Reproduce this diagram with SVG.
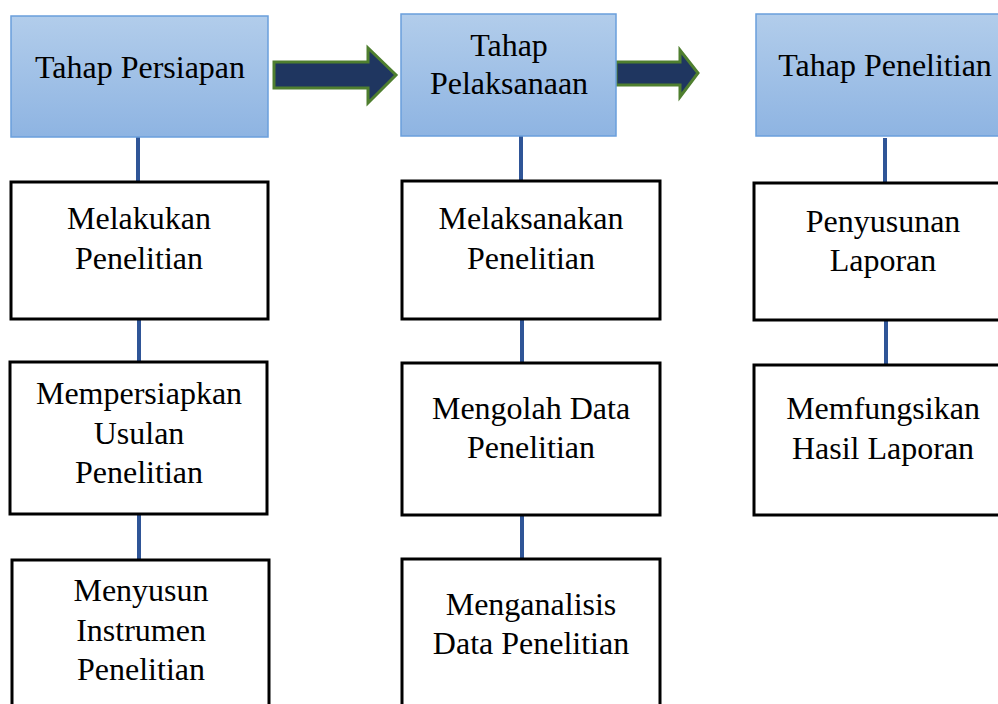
<svg xmlns="http://www.w3.org/2000/svg" width="998" height="704" viewBox="0 0 998 704">
<defs>
<linearGradient id="hg" x1="0" y1="0" x2="0" y2="1">
<stop offset="0" stop-color="#b2cdeb"/>
<stop offset="1" stop-color="#8eb4e2"/>
</linearGradient>
</defs>
<style>
.head{fill:url(#hg);stroke:#6a9fdc;stroke-width:1.5}
.box{fill:#fff;stroke:#000;stroke-width:3}
.t{font-family:"Liberation Serif","Times New Roman",serif;font-size:32px;fill:#000;text-anchor:middle}
.conn{stroke:#2f5597;stroke-width:4;fill:none}
.arr{fill:#1f3660;stroke:#4f7f2f;stroke-width:3;stroke-linejoin:miter}
</style>
<rect width="998" height="704" fill="#fff"/>
<g id="connectors">
<line class="conn" x1="138" y1="137" x2="138" y2="182"/>
<line class="conn" x1="139" y1="319" x2="139" y2="362"/>
<line class="conn" x1="139" y1="514" x2="139" y2="560"/>
<line class="conn" x1="521" y1="136" x2="521" y2="181"/>
<line class="conn" x1="522" y1="319" x2="522" y2="363"/>
<line class="conn" x1="522" y1="515" x2="522" y2="559"/>
<line class="conn" x1="885" y1="138" x2="885" y2="183"/>
<line class="conn" x1="886" y1="320" x2="886" y2="365"/>
<path class="arr" d="M274,62 H368 V48 L396,75 L368,103 V88 H274 Z"/>
<path class="arr" d="M616,62 H680 V50 L698,73 L680,97 V85 H616 Z"/>
</g>
<g id="h1"><rect class="head" x="11" y="16" width="257" height="121"/><text class="t" x="140" y="78">Tahap Persiapan</text></g>
<g id="h2"><rect class="head" x="401" y="14" width="215" height="122"/><text class="t" x="509" y="56">Tahap</text><text class="t" x="509" y="94">Pelaksanaan</text></g>
<g id="h3"><rect class="head" x="756" y="14" width="250" height="122"/><text class="t" x="885" y="76">Tahap Penelitian</text></g>
<g id="a1"><rect class="box" x="11" y="182" width="257" height="137"/><text class="t" x="139" y="229">Melakukan</text><text class="t" x="139" y="269">Penelitian</text></g>
<g id="a2"><rect class="box" x="10" y="362" width="257" height="152"/><text class="t" x="139" y="404">Mempersiapkan</text><text class="t" x="139" y="444">Usulan</text><text class="t" x="139" y="483">Penelitian</text></g>
<g id="a3"><rect class="box" x="12" y="560" width="257" height="150"/><text class="t" x="141" y="601">Menyusun</text><text class="t" x="141" y="641">Instrumen</text><text class="t" x="141" y="680">Penelitian</text></g>
<g id="b1"><rect class="box" x="402" y="181" width="258" height="138"/><text class="t" x="531" y="229">Melaksanakan</text><text class="t" x="531" y="269">Penelitian</text></g>
<g id="b2"><rect class="box" x="402" y="363" width="258" height="152"/><text class="t" x="531" y="419">Mengolah Data</text><text class="t" x="531" y="458">Penelitian</text></g>
<g id="b3"><rect class="box" x="402" y="559" width="258" height="150"/><text class="t" x="531" y="615">Menganalisis</text><text class="t" x="531" y="654">Data Penelitian</text></g>
<g id="c1"><rect class="box" x="754" y="183" width="252" height="137"/><text class="t" x="883" y="232">Penyusunan</text><text class="t" x="883" y="271">Laporan</text></g>
<g id="c2"><rect class="box" x="754" y="365" width="252" height="150"/><text class="t" x="883" y="419">Memfungsikan</text><text class="t" x="883" y="459">Hasil Laporan</text></g>
</svg>
